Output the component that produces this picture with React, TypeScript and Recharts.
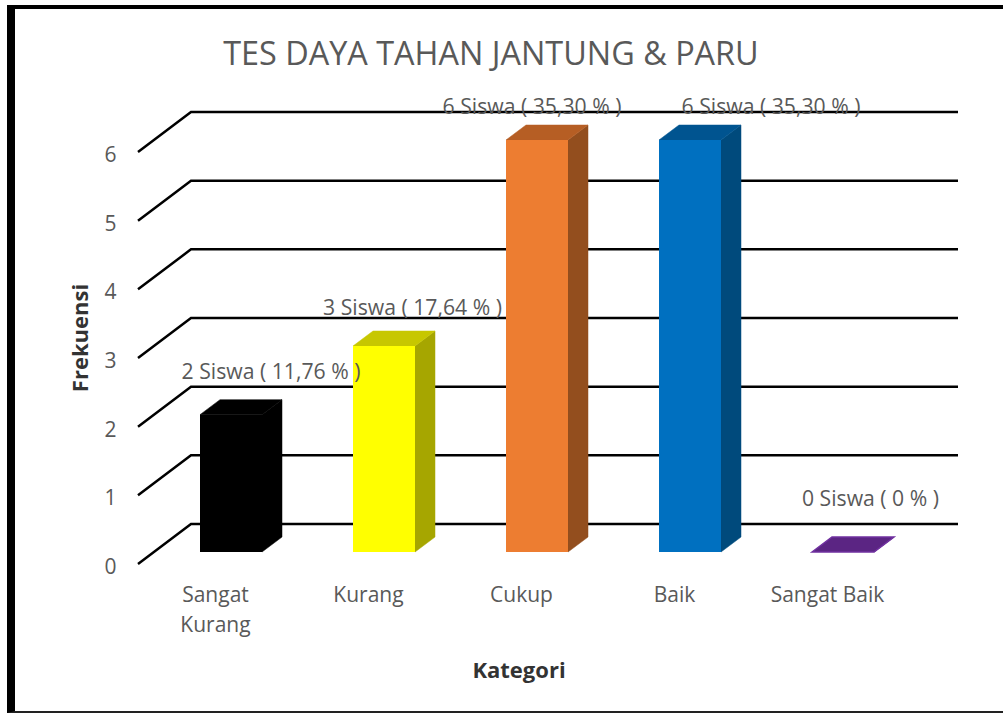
import { Bar, BarChart, CartesianGrid, LabelList, XAxis, YAxis } from "recharts";

const categories = ["Sangat\nKurang", "Kurang", "Cukup", "Baik", "Sangat Baik"];
const frequencies = [2, 3, 6, 6, 0];
const valueLabels = [
  "2 Siswa ( 11,76 % )",
  "3 Siswa ( 17,64 % )",
  "6 Siswa ( 35,30 % )",
  "6 Siswa ( 35,30 % )",
  "0 Siswa ( 0 % )",
];
const yTicks = [0, 1, 2, 3, 4, 5, 6];

const frontColors = ["#000000", "#FFFF00", "#ED7D31", "#0070C0", "#7030A0"];
const topColors = ["#000000", "#C7C700", "#B65E24", "#005490", "#5B2583"];
const sideColors = ["#000000", "#A6A600", "#934E1E", "#004A7C", "#43205F"];

// the labels were dragged by hand in the original, so each one has its own nudge
const labelNudgeX = [40, 28.5, -5, 81, 27.5];
const labelNudgeY = [-44, -40, -35, -35, -55];

const FONT = '"Open Sans", sans-serif';
const GREY = "#595959";
const DEPTH_X = 20;
const DEPTH_Y = 15;

const chartData = categories.map((name, i) => ({
  name,
  value: frequencies[i],
  label: valueLabels[i],
  front: frontColors[i],
  top: topColors[i],
  side: sideColors[i],
}));

function Bar3D({ x, y, width, height, payload }: any) {
  const right = x + width;
  const bottom = y + height;
  const isFlat = height === 0;
  return (
    <g>
      <polygon
        points={`${right},${y} ${right + DEPTH_X},${y - DEPTH_Y} ${right + DEPTH_X},${bottom - DEPTH_Y} ${right},${bottom}`}
        fill={payload.side}
        stroke={payload.side}
        strokeWidth={0.5}
      />
      <polygon
        points={`${x},${y} ${x + DEPTH_X},${y - DEPTH_Y} ${right + DEPTH_X},${y - DEPTH_Y} ${right},${y}`}
        fill={payload.top}
        stroke={isFlat ? payload.front : payload.top}
        strokeWidth={isFlat ? 1.5 : 0.5}
      />
      <rect x={x} y={y} width={width} height={height} fill={payload.front} />
    </g>
  );
}

function GridLine3D({ x1, y1, x2 }: any) {
  return (
    <path
      d={`M${x1 - 16},${y1 + 12} L${x1 + 37},${y1 - 28} L${x2 + 39},${y1 - 28}`}
      fill="none"
      stroke="#000"
      strokeWidth={2.5}
    />
  );
}

function YTick({ x, y, payload }: any) {
  return (
    <text x={x - 29.5} y={y + 14} textAnchor="end" dominantBaseline="central" fontFamily={FONT} fontSize={21} fill={GREY}>
      {payload.value}
    </text>
  );
}

function XTick({ x, y, payload }: any) {
  const lines = String(payload.value).split("\n");
  return (
    <text x={x - 15} y={y} textAnchor="middle" fontFamily={FONT} fontSize={21} fill={GREY}>
      {lines.map((line, i) => (
        <tspan key={line} x={x - 15} dy={i === 0 ? 42 : 30}>
          {line}
        </tspan>
      ))}
    </text>
  );
}

function ValueLabel({ x, y, width, index }: any) {
  return (
    <text
      x={x + width / 2 + labelNudgeX[index]}
      y={y + labelNudgeY[index]}
      textAnchor="middle"
      dominantBaseline="central"
      fontFamily={FONT}
      fontSize={21.2}
      fill={GREY}
    >
      {valueLabels[index]}
    </text>
  );
}

export default function App() {
  return (
    <div style={{ position: "absolute", left: 0, top: 0, width: 1003, height: 713, background: "#fff" }}>
      <div
        style={{
          position: "absolute",
          left: 7,
          top: 5,
          right: 0,
          bottom: 0,
          borderTop: "4px solid #000",
          borderLeft: "8px solid #000",
          borderBottom: "2px solid #222",
        }}
      />
      <div style={{ position: "absolute", left: 0, top: 0 }}>
        <BarChart
          width={1003}
          height={713}
          data={chartData}
          margin={{ top: 140, right: 84, bottom: 61, left: 79 }}
        >
          <text x={491} y={52} textAnchor="middle" dominantBaseline="central" fontFamily={FONT} fontSize={32.4} fill={GREY}>
            TES DAYA TAHAN JANTUNG &amp; PARU
          </text>
          <CartesianGrid horizontal={(props: any) => <GridLine3D key={props.key} {...props} />} vertical={false} syncWithTicks />
          <XAxis
            dataKey="name"
            axisLine={false}
            tickLine={false}
            height={100}
            interval={0}
            tick={<XTick />}
            label={{
              content: () => (
                <text x={519} y={669} textAnchor="middle" dominantBaseline="central" fontFamily={FONT} fontSize={22} fontWeight={700} fill="#333">
                  Kategori
                </text>
              ),
            }}
          />
          <YAxis
            width={75}
            domain={[0, 6]}
            ticks={yTicks}
            axisLine={false}
            tickLine={false}
            tick={<YTick />}
            label={{
              content: () => (
                <text
                  x={79}
                  y={338}
                  transform="rotate(-90 79 338)"
                  textAnchor="middle"
                  dominantBaseline="central"
                  fontFamily={FONT}
                  fontSize={22}
                  fontWeight={700}
                  fill="#333"
                >
                  Frekuensi
                </text>
              ),
            }}
          />
          <Bar dataKey="value" barSize={62} shape={<Bar3D />} isAnimationActive={false}>
            <LabelList dataKey="label" content={<ValueLabel />} />
          </Bar>
        </BarChart>
      </div>
    </div>
  );
}
